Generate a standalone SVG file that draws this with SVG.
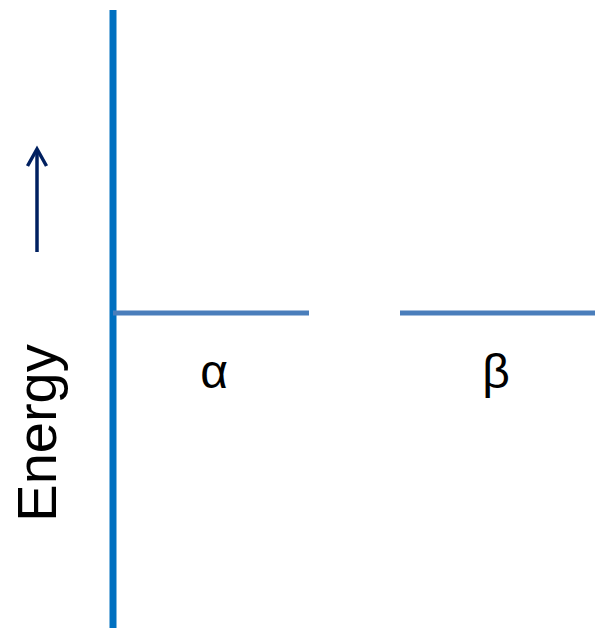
<svg xmlns="http://www.w3.org/2000/svg" width="595" height="628" viewBox="0 0 595 628">
<style>
.axis{stroke:#0070C0;stroke-width:7;fill:none}
.level{stroke:#4A7EBB;stroke-width:5;fill:none}
.arrow{stroke:#002060;stroke-width:3.5;fill:none}
.lbl{font-family:"Liberation Sans",Arial,sans-serif;fill:#000}
</style>
<g id="connectors">
<line class="axis" x1="113" y1="10" x2="113" y2="628"/>
<g id="energy-arrow">
<line class="arrow" x1="37" y1="252" x2="37" y2="149"/>
<polyline class="arrow" points="27.5,166 37,149 46.5,166"/>
</g>
</g>
<g id="alpha">
<line class="level" x1="113" y1="313" x2="309" y2="313"/>
<text class="lbl" x="214" y="388" font-size="48" text-anchor="middle">α</text>
</g>
<g id="beta">
<line class="level" x1="400" y1="313" x2="595" y2="313"/>
<text class="lbl" x="496" y="388" font-size="48" text-anchor="middle">β</text>
</g>
<g id="energy-label">
<text class="lbl" font-size="56" text-anchor="middle" transform="translate(56,433) rotate(-90)">Energy</text>
</g>
</svg>
